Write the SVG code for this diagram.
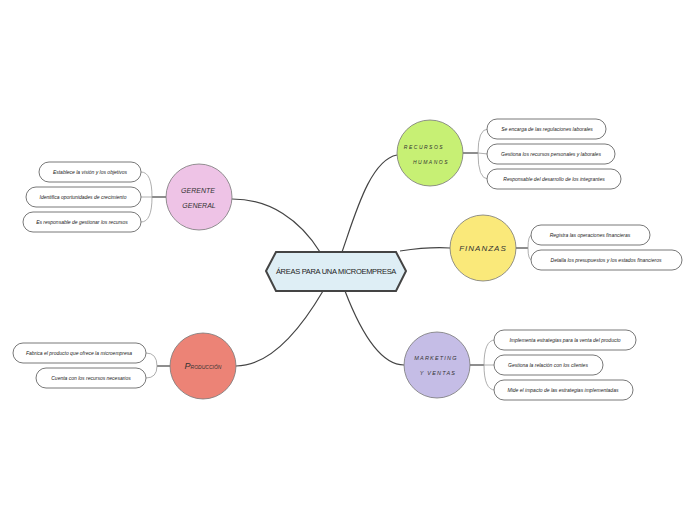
<svg xmlns="http://www.w3.org/2000/svg" width="696" height="520" viewBox="0 0 696 520">
<style>
.conn{fill:none;stroke:#444;stroke-width:1.2}
.br{fill:none;stroke:#999;stroke-width:0.8}
.leaf rect{fill:#fff;stroke:#555;stroke-width:0.8}
.lt{font-family:"Liberation Sans",Arial,sans-serif;font-size:5px;font-style:italic;fill:#222;text-anchor:middle}
.ct{font-family:"Liberation Sans",Arial,sans-serif;font-style:italic;fill:#333;text-anchor:middle}
.circ{stroke:#777;stroke-width:0.8}
</style>
<rect width="696" height="520" fill="#fff"/>
<g id="connectors">
<path class="conn" d="M342 252 C355 215 370 160 397 155"/>
<path class="conn" d="M400 251 C420 248 435 247 450 248"/>
<path class="conn" d="M345 291 C360 330 380 365 404 365"/>
<path class="conn" d="M320 252 C300 220 270 199 232 199"/>
<path class="conn" d="M323 291 C300 330 270 366 236 366"/>
<path class="conn" d="M463 153 L478 153"/>
<path class="br" d="M478 153 Q478 129 488 129 M478 153 L488 154 M478 153 Q478 179 488 179"/>
<path class="conn" d="M516 248 L528 248"/>
<path class="br" d="M528 248 Q528 235 532 235 M528 248 Q528 260 532 260"/>
<path class="conn" d="M470 365 L484 365"/>
<path class="br" d="M484 365 Q484 340 495 340 M484 365 L495 365 M484 365 Q484 390 495 390"/>
<path class="conn" d="M166 197 L152 197"/>
<path class="br" d="M152 197 Q152 172 141 172 M152 197 L141 197 M152 197 Q152 222 141 222"/>
<path class="conn" d="M170 366 L157 366"/>
<path class="br" d="M157 366 Q157 353 146 353 M157 366 Q157 378 146 378"/>
</g>
<g id="central">
<polygon points="266,271 276,252 396,252 406,271 396,291 276,291" fill="#deeef5" stroke="#444" stroke-width="2"/>
<text x="336" y="274" font-family="Liberation Sans,Arial,sans-serif" font-size="7.5" fill="#222" text-anchor="middle" letter-spacing="-0.3">ÁREAS PARA UNA MICROEMPRESA</text>
</g>
<g id="recursos-humanos">
<circle class="circ" cx="430" cy="153" r="33" fill="#c7f074"/>
<text class="ct" x="424" y="149" font-size="5" letter-spacing="1.5">RECURSOS</text>
<text class="ct" x="431" y="164" font-size="5" letter-spacing="1.5">HUMANOS</text>
</g>
<g id="finanzas">
<circle class="circ" cx="483" cy="248" r="33" fill="#fae97a"/>
<text class="ct" x="483" y="251" font-size="8" letter-spacing="1">FINANZAS</text>
</g>
<g id="marketing">
<circle class="circ" cx="437" cy="365" r="33" fill="#c5bde6"/>
<text class="ct" x="436" y="360" font-size="5.5" letter-spacing="1.2">MARKETING</text>
<text class="ct" x="438" y="375" font-size="5.5" letter-spacing="1.2">Y VENTAS</text>
</g>
<g id="gerente">
<circle class="circ" cx="199" cy="197" r="33" fill="#eec3e6"/>
<text class="ct" x="198" y="193" font-size="7">GERENTE</text>
<text class="ct" x="199" y="208" font-size="7">GENERAL</text>
</g>
<g id="produccion">
<circle class="circ" cx="203" cy="366" r="33" fill="#ec8376"/>
<text class="ct" x="203" y="369" font-size="5"><tspan font-size="9">P</tspan>RODUCCIÓN</text>
</g>
<g id="rh-1" class="leaf"><rect x="487" y="119" width="119" height="20" rx="10"/><text class="lt" x="547" y="131">Se encarga de las regulaciones laborales</text></g>
<g id="rh-2" class="leaf"><rect x="487" y="144" width="128" height="20" rx="10"/><text class="lt" x="551" y="156">Gestiona los recursos personales y laborales</text></g>
<g id="rh-3" class="leaf"><rect x="487" y="169" width="134" height="20" rx="10"/><text class="lt" x="554" y="181">Responsable del desarrollo de los integrantes</text></g>
<g id="fin-1" class="leaf"><rect x="531" y="225" width="119" height="20" rx="10"/><text class="lt" x="590" y="237">Registra las operaciones financieras</text></g>
<g id="fin-2" class="leaf"><rect x="531" y="250" width="151" height="20" rx="10"/><text class="lt" x="606" y="262">Detalla los presupuestos y los estados financieros</text></g>
<g id="mk-1" class="leaf"><rect x="494" y="330" width="142" height="20" rx="10"/><text class="lt" x="565" y="342">Implementa estrategias para la venta del producto</text></g>
<g id="mk-2" class="leaf"><rect x="494" y="355" width="109" height="20" rx="10"/><text class="lt" x="548" y="367">Gestiona la relación con los clientes</text></g>
<g id="mk-3" class="leaf"><rect x="494" y="380" width="139" height="20" rx="10"/><text class="lt" x="563" y="392">Mide el impacto de las estrategias implementadas</text></g>
<g id="gg-1" class="leaf"><rect x="39" y="162" width="102" height="20" rx="10"/><text class="lt" x="90" y="174">Establece la visión y los objetivos</text></g>
<g id="gg-2" class="leaf"><rect x="26" y="187" width="115" height="20" rx="10"/><text class="lt" x="83" y="199">Identifica oportunidades de crecimiento</text></g>
<g id="gg-3" class="leaf"><rect x="23" y="212" width="118" height="20" rx="10"/><text class="lt" x="82" y="224">Es responsable de gestionar los recursos</text></g>
<g id="pr-1" class="leaf"><rect x="13" y="343" width="133" height="20" rx="10"/><text class="lt" x="79" y="355">Fabrica el producto que ofrece la microempresa</text></g>
<g id="pr-2" class="leaf"><rect x="36" y="368" width="110" height="20" rx="10"/><text class="lt" x="91" y="380">Cuenta con los recursos necesarios</text></g>
</svg>
